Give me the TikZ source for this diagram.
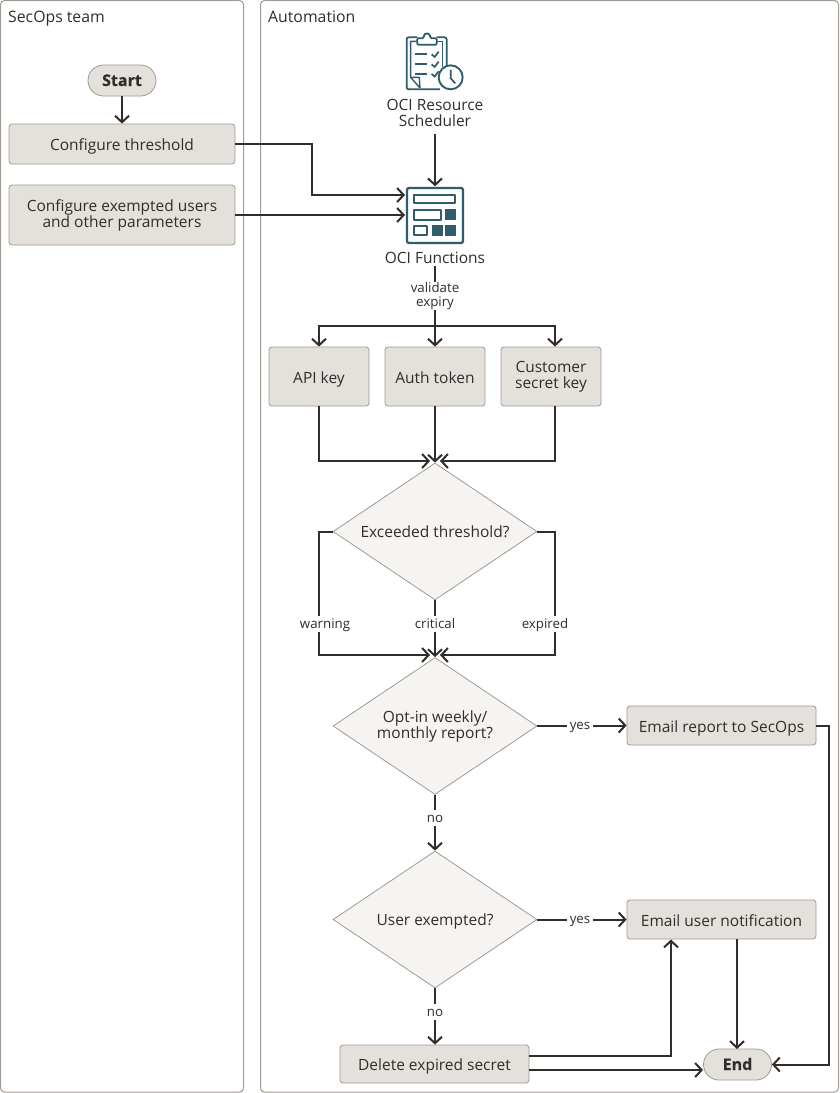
\documentclass[tikz,border=0pt]{standalone}
\usepackage{fontspec}
\setmainfont{Open Sans}
\newfontfamily\heavy{Open Sans}[BoldFeatures={FakeBold=0.5}]
\usetikzlibrary{arrows.meta,shapes.geometric,positioning,calc}
\definecolor{ink}{HTML}{312D2A}
\definecolor{boxfill}{HTML}{E4E1DC}
\definecolor{edge}{HTML}{A09A92}
\definecolor{difill}{HTML}{F5F4F2}
\definecolor{teal}{HTML}{2F5D6B}
\tikzset{
  x=1pt,y=-1pt,
  every node/.style={text=ink,font=\fontsize{15.5}{16}\selectfont,align=center,inner sep=0pt},
  evenstrut/.style={execute at begin node={\rule{0pt}{#1pt}},execute at end node={\rule[-3.5pt]{0pt}{3.5pt}}},
  panel/.style={draw=edge,line width=1pt,rounded corners=4pt,fill=white},
  paneltitle/.style={anchor=base west,font=\fontsize{15.8}{16}\selectfont},
  proc/.style={evenstrut=17,draw=edge,line width=.8pt,fill=boxfill,rounded corners=3pt,minimum width=#1},
  proc/.default=226,
  pill/.style={evenstrut=14.5,draw=edge,line width=.8pt,fill=boxfill,rounded corners=15.5pt,minimum width=68,minimum height=31,font=\fontsize{16}{16}\heavy\bfseries},
  deci/.style={evenstrut=16,draw=edge,line width=.8pt,fill=difill,shape=diamond,shape aspect=1.5,minimum width=204,minimum height=137},
  iconbox/.style={minimum width=58,minimum height=57},
  flow/.style={draw=ink,line width=2pt,-{Straight Barb[length=6.5pt,width=14pt,line width=2pt]}},
  plain/.style={draw=ink,line width=2pt},
  lab/.style={fill=white,font=\fontsize{13.3}{14}\selectfont,inner xsep=3pt,inner ysep=0pt,
    execute at begin node={\rule{0pt}{12.5pt}},execute at end node={\rule[-3pt]{0pt}{3pt}}},
  tl/.style={draw=teal,line width=2pt,line join=round},
  tf/.style={fill=teal}
}
\begin{document}
\begin{tikzpicture}
\useasboundingbox (0,0) rectangle (839,1093);
% panels
\draw[panel] (0.5,0.5) rectangle (243.5,1092);
\draw[panel] (260.5,0.5) rectangle (838.5,1092);
\node[paneltitle] (tsec) at (8,22.5) {SecOps team};
\node[paneltitle] (taut) at (268,22.5) {Automation};
% left lane
\node[pill] (start) at (122,80.5) {Start};
\node[proc,minimum height=40] (thr) at (122,144) {Configure threshold};
\node[proc,minimum height=60] (exm) at (122,215) {Configure exempted users\\and other parameters};
% icon anchors
\node[iconbox] (sched) at (435,63) {};
\node[iconbox] (fn) at (435,215) {};
% scheduler icon
\begin{scope}[shift={(380,20)},x=0.3333pt,y=-0.3333pt]
  % outer board
  \draw[tl,line width=1.8pt,rounded corners=2pt] (112,52) -- (80,52) -- (80,208) -- (180,208);
  \draw[tl,line width=1.8pt,rounded corners=2pt] (170,52) -- (200,52) -- (200,140);
  % inner page with dog-ear
  \draw[tl,line width=1.4pt] (112,64) -- (92,64) -- (92,172) -- (120,204);
  \draw[tl,line width=1.4pt] (170,64) -- (188,64) -- (188,140);
  \draw[tl,line width=1.4pt] (92,172) -- (118,172) -- (120,204);
  % clip
  \draw[tl,line width=1.8pt,fill=white,rounded corners=1pt] (112,74) -- (112,55) -- (130,55) .. controls (132,36) and (150,36) .. (152,55) -- (170,55) -- (170,74) -- cycle;
  % lines and ticks
  \draw[tl,line width=1.7pt] (105,103) -- (140,103) (105,133) -- (140,133) (105,162) -- (140,162);
  \draw[tl,line width=1.7pt] (155,103) -- (164,111) -- (176,95) (155,133) -- (164,141) -- (176,125) (155,162) -- (164,170) -- (176,154);
  % clock
  \draw[tl,line width=1.9pt,fill=white] (212,172) circle (36);
  \draw[tl,line width=1.7pt] (212,150) -- (212,175) -- (226,190);
\end{scope}
% functions icon
\begin{scope}[shift={(406,187)}]
  \draw[tl,line width=2.3pt,rounded corners=2pt] (1,1) rectangle (57,56);
  \draw[tl,line width=2pt] (8.3,8.3) rectangle (49,16.3);
  \draw[tl,line width=2pt] (8.3,23.3) rectangle (34.7,33);
  \fill[tf] (39.3,22) rectangle (50,33);
  \draw[tl,line width=2pt] (8.3,39) rectangle (21.3,47.7);
  \fill[tf] (26,38) rectangle (36.7,48.7);
  \fill[tf] (39.3,38) rectangle (50,48.7);
\end{scope}
\node (schedt) at (435,112.5) {OCI Resource\\Scheduler};
\node (fnt) at (435,257.5) {OCI Functions};
% secrets
\node[proc=100,minimum height=59] (api) at (319,376.5) {API key};
\node[proc=100,minimum height=59] (auth) at (435,376.5) {Auth token};
\node[proc=100,minimum height=59] (cust) at (551,376.5) {Customer\\secret key};
% decisions
\node[deci] (d1) at (435,531.5) {Exceeded threshold?};
\node[deci] (d2) at (435,726) {Opt-in weekly/\\monthly report?};
\node[deci] (d3) at (435,919.5) {User exempted?};
\node[proc=189,minimum height=39] (rep) at (721.5,725.5) {Email report to SecOps};
\node[proc=189,minimum height=39] (usr) at (721.5,919.5) {Email user notification};
\node[proc=189,minimum height=38] (del) at (434.5,1064) {Delete expired secret};
\node[pill] (end) at (737.5,1064.5) {End};
% junction coordinates
\coordinate (j1) at (435,326);
\coordinate (t1) at (d1.north);
\coordinate (t2) at (d2.north);
\coordinate (thrin) at (405,195);
\coordinate (exmin) at (405,215);
% connectors
\draw[flow] (start) -- (thr);
\draw[flow] (thr.east) -- (312,144) -- (312,195) -- (thrin);
\draw[flow] (exm.east) -- (exmin);
\draw[flow] (schedt.south) ++(0,8) -- (fn.north);
\draw[plain] (fnt.south) ++(0,3) -- (j1);
\draw[flow] (j1) -- (auth.north);
\draw[flow] (j1) -- (319,326) -- (api.north);
\draw[flow] (j1) -- (555,326) -- (555,346.5);
\draw[flow] (api.south) -- (319,461) -- (430,461);
\draw[flow] (auth.south) -- (t1);
\draw[flow] (555,406) -- (555,461) -- (440,461);
\draw[flow] (d1.west) -- (319,531.5) -- (319,655) -- (430,655);
\draw[flow] (d1.south) -- (t2);
\draw[flow] (d1.east) -- (555,531.5) -- (555,655) -- (440,655);
\draw[flow] (d2.east|-rep.west) -- (rep.west);
\draw[flow] (d2.south) -- (d3.north);
\draw[flow] (d3.east) -- (usr.west);
\draw[flow] (d3.south) -- (del.north-|d3.south);
\draw[flow] (529,1056) -- (671,1056) -- (671,939.5);
\draw[flow] (529,1070) -- (703,1070);
\draw[flow] (737,939) -- (737,1049);
\draw[flow] (rep.east) -- (829,725.5) -- (829,1064.5) -- (end.east);
% labels
\node[lab] (lv) at (435,296) {validate\\expiry};
\node[lab,inner xsep=1pt] (lw) at (325,624) {warning};
\node[lab] (lc) at (435,624) {critical};
\node[lab,inner xsep=1pt] (le) at (545,624) {expired};
\node[lab] (ly1) at (580,725) {yes};
\node[lab] (ln1) at (435,818) {no};
\node[lab] (ly2) at (580,919) {yes};
\node[lab] (ln2) at (435,1012) {no};
\end{tikzpicture}
\end{document}
